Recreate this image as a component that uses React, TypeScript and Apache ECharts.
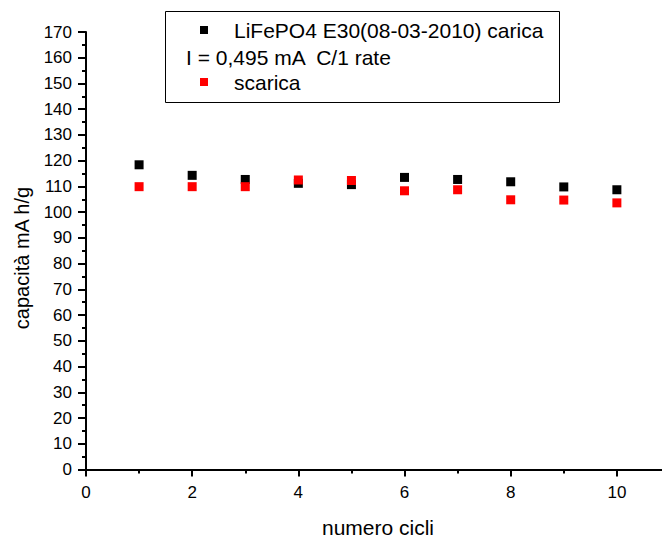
import React, { useEffect, useRef } from "react";
import * as echarts from "echarts";

const cycles = [1, 2, 3, 4, 5, 6, 7, 8, 9, 10];
const caricaValues = [118.4, 114.3, 112.7, 111.2, 110.7, 113.5, 112.7, 111.8, 109.8, 108.7];
const scaricaValues = [109.9, 109.9, 109.9, 112.5, 112.3, 108.3, 108.7, 104.8, 104.7, 103.6];
const xMajorTicks = [0, 2, 4, 6, 8, 10];
const xMinorTicks = [1, 3, 5, 7, 9];
const caricaName = "LiFePO4 E30(08-03-2010) carica";
const scaricaName = "scarica";
const legendNote = "I = 0,495 mA  C/1 rate";
const xTitle = "numero cicli";
const yTitle = "capacità mA h/g";

const FONT = "Liberation Sans, Arial, sans-serif";

export default function App() {
  const ref = useRef<HTMLDivElement>(null);
  useEffect(() => {
    if (!ref.current) return;
    const chart = echarts.init(ref.current, null, { renderer: "svg" });
    const toPairs = (vals: number[]) => cycles.map((c, i) => [c, vals[i]]);
    const legendText = { fontSize: 21, color: "#000", fontFamily: FONT, padding: [0, 0, 0, 21] };
    chart.setOption({
      animation: false,
      backgroundColor: "#ffffff",
      textStyle: { fontFamily: FONT },
      grid: { left: 86, top: 32, right: 0, bottom: 69.5, containLabel: false },
      xAxis: [
        {
          type: "value",
          min: 0,
          max: 10.85,
          axisLine: { show: true, lineStyle: { color: "#000", width: 2 } },
          axisTick: { show: true, customValues: xMajorTicks, length: 7, lineStyle: { color: "#000", width: 2 } },
          axisLabel: { customValues: xMajorTicks, color: "#000", fontSize: 17, margin: 14, fontFamily: FONT },
          splitLine: { show: false },
        },
        {
          type: "value",
          min: 0,
          max: 10.85,
          position: "bottom",
          axisLine: { show: false },
          axisTick: { show: true, customValues: xMinorTicks, length: 4, lineStyle: { color: "#000", width: 2 } },
          axisLabel: { show: false },
          splitLine: { show: false },
        },
      ],
      yAxis: {
        type: "value",
        min: 0,
        max: 170,
        interval: 10,
        axisLine: { show: true, lineStyle: { color: "#000", width: 2 } },
        axisTick: { show: true, length: 8, lineStyle: { color: "#000", width: 2 } },
        minorTick: { show: true, splitNumber: 2, length: 4, lineStyle: { color: "#000", width: 2 } },
        axisLabel: { color: "#000", fontSize: 17, margin: 14, fontFamily: FONT },
        splitLine: { show: false },
      },
      legend: [
        {
          data: [caricaName],
          orient: "vertical",
          left: 200,
          top: 19.5,
          padding: 0,
          icon: "rect",
          itemWidth: 8,
          itemHeight: 8,
          textStyle: legendText,
          selectedMode: false,
        },
        {
          data: [scaricaName],
          orient: "vertical",
          left: 200,
          top: 71.5,
          padding: 0,
          icon: "rect",
          itemWidth: 8,
          itemHeight: 8,
          textStyle: legendText,
          selectedMode: false,
        },
      ],
      graphic: [
        {
          type: "rect",
          left: 163,
          top: 9,
          shape: { width: 394, height: 91 },
          style: { fill: "none", stroke: "#000", lineWidth: 1 },
          z: 10,
        },
        {
          type: "text",
          x: 186,
          y: 57,
          style: { text: legendNote, font: `21px ${FONT}`, fill: "#000", verticalAlign: "middle" },
          z: 10,
        },
        {
          type: "text",
          x: 378,
          y: 527,
          style: { text: xTitle, font: `21px ${FONT}`, fill: "#000", align: "center", verticalAlign: "middle" },
        },
        {
          type: "text",
          x: 22,
          y: 258,
          rotation: Math.PI / 2,
          style: { text: yTitle, font: `20px ${FONT}`, fill: "#000", align: "center", verticalAlign: "middle" },
        },
      ],
      series: [
        {
          name: caricaName,
          type: "scatter",
          symbol: "rect",
          symbolSize: 9,
          itemStyle: { color: "#000000", opacity: 1 },
          data: toPairs(caricaValues),
          z: 2,
        },
        {
          name: scaricaName,
          type: "scatter",
          symbol: "rect",
          symbolSize: 9,
          itemStyle: { color: "#ff0000", opacity: 1 },
          data: toPairs(scaricaValues),
          z: 3,
        },
      ],
    });
    return () => chart.dispose();
  }, []);
  return (
    <div
      ref={ref}
      style={{ position: "fixed", left: 0, top: 0, width: 662, height: 539, background: "#fff" }}
    />
  );
}
